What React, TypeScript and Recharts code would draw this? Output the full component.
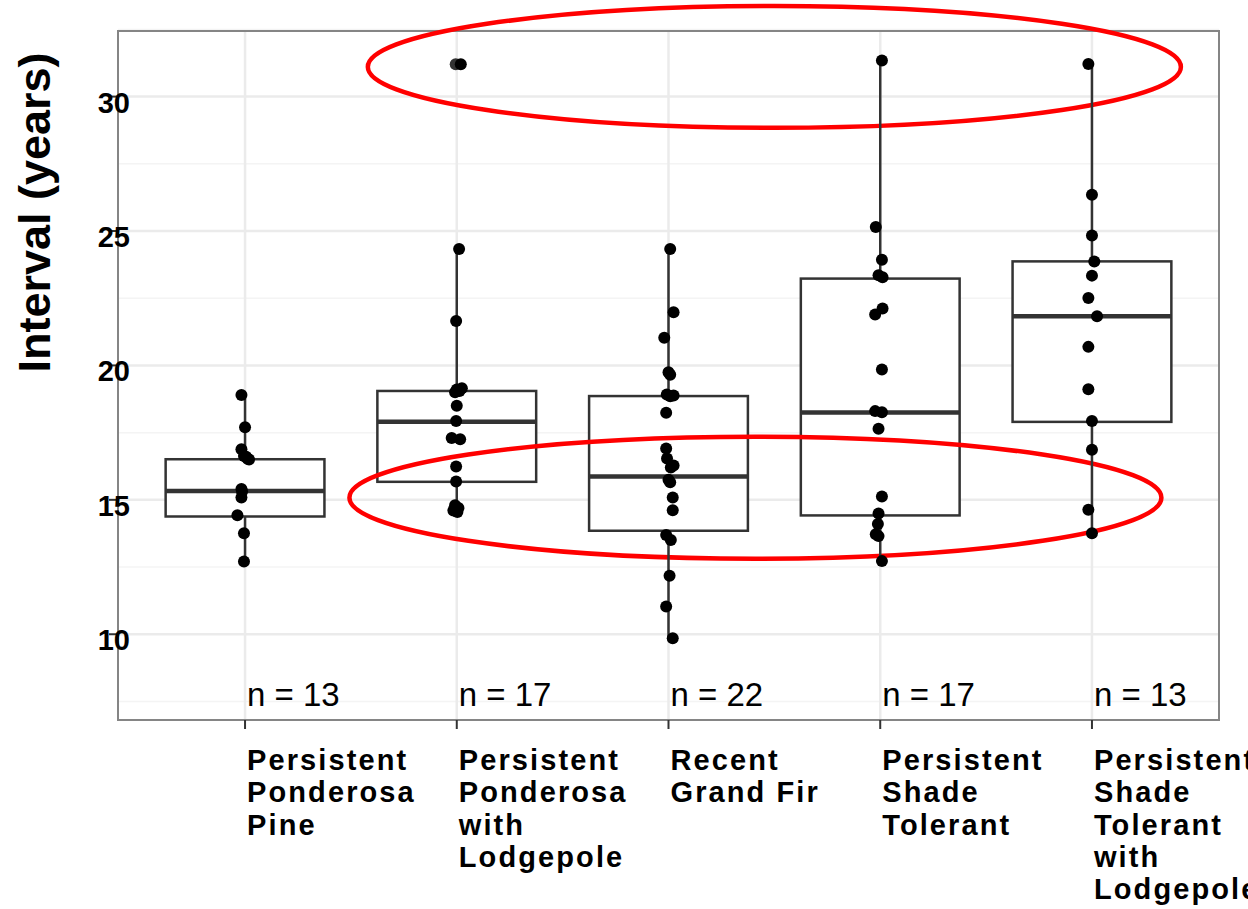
import React from 'react';
import {
  ComposedChart,
  Scatter,
  XAxis,
  YAxis,
  CartesianGrid,
  ReferenceArea,
  ReferenceLine,
} from 'recharts';

// ---------- data ----------
const categories = [
  'Persistent Ponderosa Pine',
  'Persistent Ponderosa with Lodgepole',
  'Recent Grand Fir',
  'Persistent Shade Tolerant',
  'Persistent Shade Tolerant with Lodgepole',
];
const categoryLines = [
  ['Persistent', 'Ponderosa', 'Pine'],
  ['Persistent', 'Ponderosa', 'with', 'Lodgepole'],
  ['Recent', 'Grand Fir'],
  ['Persistent', 'Shade', 'Tolerant'],
  ['Persistent', 'Shade', 'Tolerant', 'with', 'Lodgepole'],
];
const counts = [13, 17, 22, 17, 13];

const q1 = [14.38, 15.67, 13.85, 14.42, 17.9];
const median = [15.33, 17.9, 15.87, 18.25, 21.83];
const q3 = [16.51, 19.05, 18.86, 23.23, 23.87];
const whiskerLow = [12.71, 14.55, 9.85, 12.72, 13.76];
const whiskerHigh = [18.9, 24.33, 24.33, 31.34, 31.21];

// boxplot outliers (category index, value)
const outlierCat = [2];
const outlierValue = [31.2];

// jittered observations per category
const values1 = [18.9, 17.7, 16.88, 16.63, 16.53, 16.5, 16.6, 15.4, 15.32, 15.09, 14.43, 13.76, 12.71];
const jitter1 = [-0.017, 0, -0.017, -0.005, 0.012, 0.019, 0.005, -0.017, -0.014, -0.017, -0.036, -0.005, -0.005];
const values2 = [31.2, 24.33, 21.65, 19.15, 19.1, 19.05, 19.0, 18.5, 17.93, 17.3, 17.25, 16.24, 15.68, 14.8, 14.7, 14.6, 14.55];
const jitter2 = [0.019, 0.011, -0.003, 0.024, 0, 0.013, -0.008, 0, -0.003, -0.024, 0.016, -0.003, -0.003, -0.008, 0.008, -0.016, 0.003];
const values3 = [24.33, 21.98, 21.03, 19.75, 19.65, 18.92, 18.88, 18.85, 18.24, 16.91, 16.54, 16.28, 16.2, 15.75, 15.65, 15.09, 14.61, 13.69, 13.51, 12.18, 11.03, 9.85];
const jitter3 = [0.008, 0.024, -0.02, 0, 0.008, -0.008, 0.024, 0.008, -0.011, -0.011, -0.007, 0.024, 0.011, 0, 0.008, 0.02, 0.02, -0.011, 0.011, 0.005, -0.011, 0.02];
const values4 = [31.34, 25.15, 23.93, 23.35, 23.28, 22.12, 21.89, 19.85, 18.3, 18.26, 17.64, 15.12, 14.49, 14.1, 13.72, 13.65, 12.72];
const jitter4 = [0.008, -0.021, 0.008, -0.008, 0.011, 0.011, -0.024, 0.008, -0.024, 0.008, -0.008, 0.008, -0.008, -0.011, -0.021, -0.008, 0.008];
const values5 = [31.21, 26.35, 24.83, 23.87, 23.34, 22.51, 21.83, 20.69, 19.11, 17.93, 16.86, 14.63, 13.76];
const jitter5 = [-0.017, 0, 0, 0.011, 0, -0.017, 0.024, -0.017, -0.017, 0, 0, -0.017, 0];

const allValues = [values1, values2, values3, values4, values5];
const allJitter = [jitter1, jitter2, jitter3, jitter4, jitter5];

const yTicks = [10, 15, 20, 25, 30];
const yMinorTicks = [7.5, 12.5, 17.5, 22.5, 27.5, 32.5];
const xTicks = [1, 2, 3, 4, 5];
const yDomain = [6.81, 32.44];
const xDomain = [0.4, 5.6];
const nLabelY = 7.77;
const boxHalfWidth = 0.375;

// annotation ellipses in data space: [x1, x2, y1, y2]
const ellipses = [
  [1.58, 5.42, 28.84, 33.37],
  [1.493, 5.328, 12.81, 17.35],
];

// ---------- derived ----------
const pointData = allValues.flatMap((vals, i) =>
  vals.map((v, j) => ({ x: i + 1 + allJitter[i][j], y: v }))
);
const outlierData = outlierCat.map((c, i) => ({ x: c - 0.005, y: outlierValue[i] }));
const nData = counts.map((n, i) => ({ x: i + 1, y: nLabelY, label: `n = ${n}` }));

const FONT = '"Liberation Sans", Arial, Helvetica, sans-serif';

const XTick = (props: any) => {
  const { x, y, payload } = props;
  const lines = categoryLines[Math.round(payload.value) - 1] || [];
  return (
    <g>
      {lines.map((l, i) => (
        <text
          key={i}
          x={x + 2}
          y={y + 39 + i * 32.3}
          textAnchor="start"
          fontFamily={FONT}
          fontWeight="bold"
          fontSize={29}
          letterSpacing={2.1}
          fill="#000"
        >
          {l}
        </text>
      ))}
    </g>
  );
};

const YTick = (props: any) => {
  const { x, y, payload } = props;
  return (
    <text
      x={x + 23}
      y={y + 16}
      textAnchor="end"
      fontFamily={FONT}
      fontWeight="bold"
      fontSize={29}
      fill="#000"
    >
      {payload.value}
    </text>
  );
};

const YTitle = (props: any) => {
  const vb = props.viewBox || { x: 0, y: 31, width: 118, height: 689 };
  const x = vb.x + 50;
  const y = vb.y + 181.5;
  return (
    <text
      x={x}
      y={y}
      transform={`rotate(-90 ${x} ${y})`}
      textAnchor="middle"
      fontFamily={FONT}
      fontWeight="bold"
      fontSize={45}
      fill="#000"
    >
      Interval (years)
    </text>
  );
};

const dot = (fill: string) => (p: any) => (
  <circle cx={p.cx} cy={p.cy} r={6} fill={fill} />
);

const nText = (p: any) => (
  <text
    x={p.cx + 2}
    y={p.cy + 12}
    textAnchor="start"
    fontFamily={FONT}
    fontSize={33}
    fill="#000"
  >
    {p.payload.label}
  </text>
);

export default function App() {
  return (
    <div style={{ position: 'absolute', left: 0, top: 0, width: 1248, height: 909, background: '#fff' }}>
      <ComposedChart
        width={1248}
        height={909}
        margin={{ top: 31, right: 29, bottom: 0, left: 0 }}
      >
        <CartesianGrid
          horizontalValues={yMinorTicks}
          vertical={false}
          stroke="#f4f4f4"
          strokeWidth={1.5}
        />
        <CartesianGrid
          horizontalValues={yTicks}
          verticalValues={xTicks}
          stroke="#ebebeb"
          strokeWidth={2.5}
        />
        <XAxis
          type="number"
          dataKey="x"
          domain={xDomain}
          ticks={xTicks}
          allowDataOverflow
          height={189}
          tickSize={9}
          tickMargin={2}
          axisLine={false}
          tickLine={{ stroke: '#333', strokeWidth: 2 }}
          tick={<XTick />}
          interval={0}
        />
        <YAxis
          type="number"
          dataKey="y"
          domain={yDomain}
          ticks={yTicks}
          allowDataOverflow
          width={118}
          tickSize={9}
          tickMargin={2}
          axisLine={false}
          tickLine={{ stroke: '#333', strokeWidth: 2 }}
          tick={<YTick />}
          interval={0}
          label={<YTitle />}
        />

        {categories.map((c, i) => (
          <ReferenceLine
            key={`wh-${i}`}
            segment={[{ x: i + 1, y: q3[i] }, { x: i + 1, y: whiskerHigh[i] }]}
            stroke="#333"
            strokeWidth={2.5}
            ifOverflow="visible"
          />
        ))}
        {categories.map((c, i) => (
          <ReferenceLine
            key={`wl-${i}`}
            segment={[{ x: i + 1, y: whiskerLow[i] }, { x: i + 1, y: q1[i] }]}
            stroke="#333"
            strokeWidth={2.5}
            ifOverflow="visible"
          />
        ))}
        {categories.map((c, i) => (
          <ReferenceArea
            key={`box-${i}`}
            x1={i + 1 - boxHalfWidth}
            x2={i + 1 + boxHalfWidth}
            y1={q1[i]}
            y2={q3[i]}
            ifOverflow="visible"
            shape={(p: any) => (
              <rect x={p.x} y={p.y} width={p.width} height={p.height} fill="#fff" stroke="#333" strokeWidth={2.5} />
            )}
          />
        ))}
        {categories.map((c, i) => (
          <ReferenceLine
            key={`med-${i}`}
            segment={[{ x: i + 1 - boxHalfWidth, y: median[i] }, { x: i + 1 + boxHalfWidth, y: median[i] }]}
            stroke="#333"
            strokeWidth={4.5}
            ifOverflow="visible"
          />
        ))}

        <Scatter data={outlierData} shape={dot('#333')} isAnimationActive={false} />
        <Scatter data={pointData} shape={dot('#000')} isAnimationActive={false} />
        <Scatter data={nData} shape={nText} isAnimationActive={false} />

        <ReferenceArea
          x1={xDomain[0]}
          x2={xDomain[1]}
          y1={yDomain[0]}
          y2={yDomain[1]}
          ifOverflow="visible"
          shape={(p: any) => (
            <rect x={p.x} y={p.y} width={p.width} height={p.height} fill="none" stroke="#858585" strokeWidth={2} />
          )}
        />
        {ellipses.map((e, i) => (
          <ReferenceArea
            key={`el-${i}`}
            x1={e[0]}
            x2={e[1]}
            y1={e[2]}
            y2={e[3]}
            ifOverflow="visible"
            shape={(p: any) => (
              <ellipse
                cx={p.x + p.width / 2}
                cy={p.y + p.height / 2}
                rx={Math.abs(p.width) / 2}
                ry={Math.abs(p.height) / 2}
                fill="none"
                stroke="#ff0000"
                strokeWidth={4.5}
              />
            )}
          />
        ))}
      </ComposedChart>
    </div>
  );
}
